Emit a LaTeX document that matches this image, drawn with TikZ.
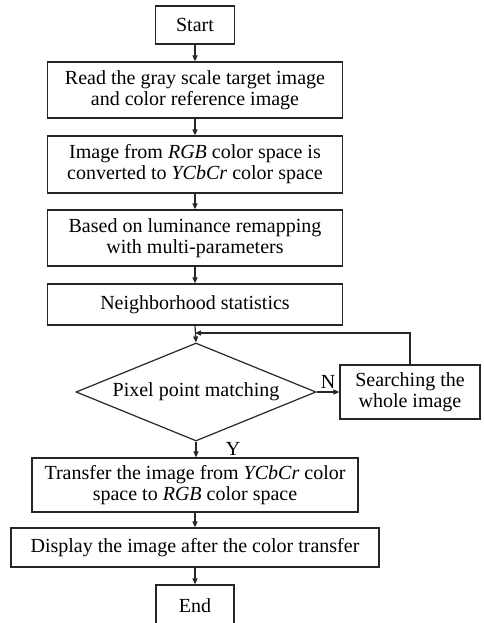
\documentclass[tikz,border=0pt]{standalone}
\usepackage{fontspec}
\setmainfont{Liberation Serif}
\usetikzlibrary{shapes.geometric,arrows.meta}
\begin{document}
\begin{tikzpicture}[x=1pt,y=-1pt,
  font=\fontsize{20}{21}\selectfont,
  fbox/.style={draw=black!85, line width=1.2pt, align=center, inner sep=0pt},
  arr/.style={draw=black!85, line width=1.2pt, -{Triangle[length=6pt,width=5pt]}},
  lab/.style={inner sep=0pt}]
\clip (0,0) rectangle (483,623);
\node[fbox, minimum width=79pt, minimum height=38pt] (start) at (195,25) {Start};
\node[fbox, minimum width=295pt, minimum height=56pt] (read) at (195,90) {Read the gray scale target image\\and color reference image};
\node[fbox, minimum width=295pt, minimum height=57pt] (conv) at (195,164.5) {Image from \textit{RGB} color space is\\converted to \textit{YCbCr} color space};
\node[fbox, minimum width=295pt, minimum height=56pt] (lum) at (195,238) {Based on luminance remapping\\with multi-parameters};
\node[fbox, minimum width=295pt, minimum height=41pt] (stat) at (195,304.5) {Neighborhood statistics};
\node[fbox, diamond, aspect=2.45, minimum width=240pt, minimum height=98pt] (dia) at (196,392) {Pixel point matching};
\node[fbox, minimum width=140pt, minimum height=54pt] (search) at (410,392) {Searching the\\whole image};
\node[fbox, minimum width=326pt, minimum height=54pt] (back) at (195,485) {Transfer the image from \textit{YCbCr} color\\space to \textit{RGB} color space};
\node[fbox, minimum width=368pt, minimum height=39pt] (disp) at (195,547.5) {Display the image after the color transfer};
\node[fbox, minimum width=78pt, minimum height=42pt] (end) at (195,606) {End};
\node[lab] (nlab) at (328,382) {N};
\node[lab] (ylab) at (233,449) {Y};
\coordinate (fb) at (195,333);
\draw[arr] (start) -- (read);
\draw[arr] (read) -- (conv);
\draw[arr] (conv) -- (lum);
\draw[arr] (lum) -- (stat);
\draw[arr] (stat.south) -- (dia.north);
\draw[arr] (dia.east) -- (search.west);
\draw[arr] (search.north) |- (fb);
\draw[arr] (dia.south) -- (back.north -| dia.south);
\draw[arr] (back) -- (disp);
\draw[arr] (disp) -- (end);
\end{tikzpicture}
\end{document}
